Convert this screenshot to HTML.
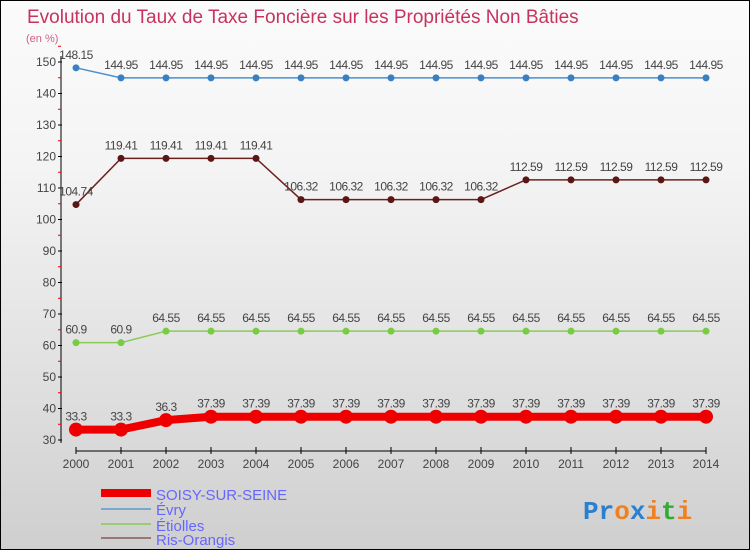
<!DOCTYPE html>
<html><head><meta charset="utf-8"><style>
body{margin:0}
#c{width:750px;height:550px;position:relative;box-sizing:border-box;border:1px solid #000;background:linear-gradient(#fbfbfb,#f4f4f4 30%,#e2e2e2 65%,#cfcfcf);font-family:"Liberation Sans",sans-serif;overflow:hidden}
</style></head><body>
<div id="c">
<svg id="s" width="750" height="550" style="position:absolute;left:0;top:0">
<text x="26" y="22" font-size="19" fill="#c8325f">Evolution du Taux de Taxe Foncière sur les Propriétés Non Bâties</text>
<text x="25" y="41" font-size="11" fill="#d0608a">(en %)</text>
<g id="axes"></g><g id="series"></g>
<g>
<line x1="100" y1="492" x2="150" y2="492" stroke="#e00" stroke-width="8"/>
<text x="155" y="499" font-size="15" fill="#6666ff">SOISY-SUR-SEINE</text>
<line x1="100" y1="508" x2="150" y2="508" stroke="#7aa8cc" stroke-width="2"/>
<text x="155" y="514" font-size="15" fill="#6666ff">Évry</text>
<line x1="100" y1="523" x2="150" y2="523" stroke="#99cc77" stroke-width="2"/>
<text x="155" y="530" font-size="15" fill="#6666ff">Étiolles</text>
<line x1="100" y1="537" x2="150" y2="537" stroke="#997777" stroke-width="2"/>
<text x="155" y="544" font-size="15" fill="#6666ff">Ris-Orangis</text>
</g>
<text x="582" y="518" font-size="26" font-weight="bold" font-family="Liberation Mono,monospace"><tspan fill="#2a7fd0">P</tspan><tspan fill="#2a7fd0">r</tspan><tspan fill="#f08020">o</tspan><tspan fill="#2a7fd0">x</tspan><tspan fill="#f08020">i</tspan><tspan fill="#33aa33">t</tspan><tspan fill="#f08020">i</tspan></text>
</svg>
</div>
<script>
const years=[2000,2001,2002,2003,2004,2005,2006,2007,2008,2009,2010,2011,2012,2013,2014];
const soisy=[33.3,33.3,36.3,37.39,37.39,37.39,37.39,37.39,37.39,37.39,37.39,37.39,37.39,37.39,37.39];
const evry=[148.15,144.95,144.95,144.95,144.95,144.95,144.95,144.95,144.95,144.95,144.95,144.95,144.95,144.95,144.95];
const etiolles=[60.9,60.9,64.55,64.55,64.55,64.55,64.55,64.55,64.55,64.55,64.55,64.55,64.55,64.55,64.55];
const ris=[104.74,119.41,119.41,119.41,119.41,106.32,106.32,106.32,106.32,106.32,112.59,112.59,112.59,112.59,112.59];
const yTicks=[30,40,50,60,70,80,90,100,110,120,130,140,150];
const NS="http://www.w3.org/2000/svg";
const X=i=>75+i*45, Y=v=>439-(v-30)*3.15;
function mk(t,a,p){const e=document.createElementNS(NS,t);for(const k in a)e.setAttribute(k,a[k]);p.appendChild(e);return e;}
const ax=document.getElementById('axes'),sr=document.getElementById('series');
let l=mk('line',{x1:60,y1:55,x2:60,y2:442,stroke:'#000'},ax);


l=mk('line',{x1:75,y1:450,x2:705,y2:450,stroke:'#000'},ax);


yTicks.forEach(v=>{const y=Y(v);mk('line',{x1:57,y1:y,x2:61,y2:y,stroke:'#000'},ax);
mk('line',{x1:57,y1:y-15.75,x2:60,y2:y-15.75,stroke:'#e00'},ax);
const t=mk('text',{x:55,y:y+4,'font-size':12,fill:'#444','text-anchor':'end'},ax);t.textContent=v;

});
years.forEach((yr,i)=>{mk('line',{x1:X(i),y1:446,x2:X(i),y2:453,stroke:'#000'},ax);
const t=mk('text',{x:X(i),y:467,'font-size':12,fill:'#444','text-anchor':'middle'},ax);t.textContent=yr;

});
function series(d,col,dot,w,r,name){
const g=mk('g',{},sr);


mk('polyline',{points:d.map((v,i)=>X(i)+','+Y(v)).join(' '),fill:'none',stroke:col,'stroke-width':w},g);
d.forEach((v,i)=>{const c=mk('circle',{cx:X(i),cy:Y(v),r:r,fill:dot},g);


const t=mk('text',{x:X(i),y:Y(v)-9,'font-size':12,fill:'#444','text-anchor':'middle','letter-spacing':'-0.5'},g);t.textContent=v;

});}
series(evry,'#4a90d0','#3a80c0',1.5,3.5,'evry');
series(ris,'#6b2020','#5a1515',1.5,3.5,'ris-orangis');
series(etiolles,'#88cc55','#77cc44',1.5,3.5,'etiolles');
series(soisy,'#ee0000','#ee0000',8,7,'soisy');
</script>
</body></html>
